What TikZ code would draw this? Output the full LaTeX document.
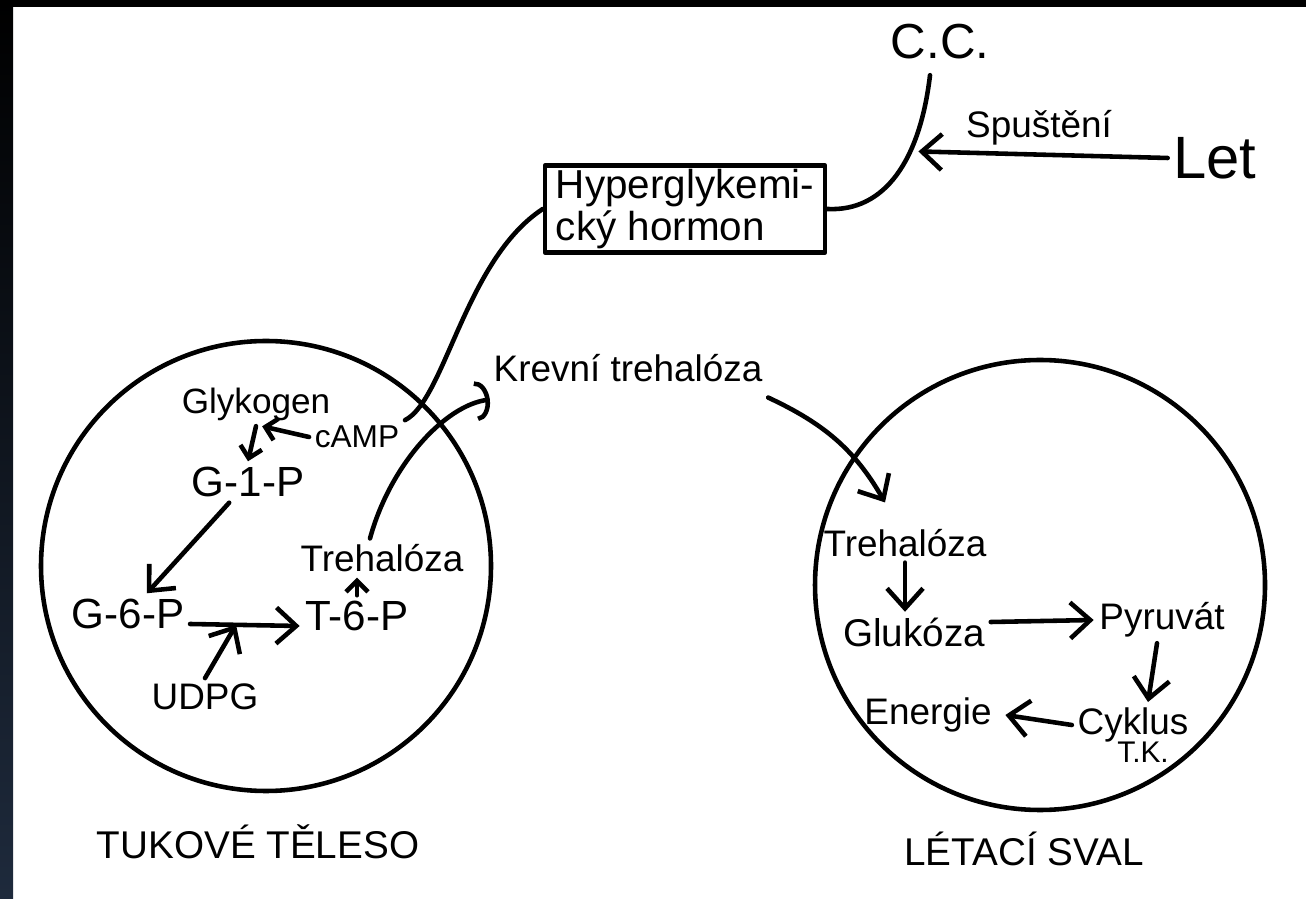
\documentclass[tikz,border=0pt]{standalone}
\usepackage{fontspec}
\setmainfont{Liberation Sans}
\usetikzlibrary{arrows.meta,calc}
\tikzset{
  hand/.style={line width=1.3pt, line cap=round, line join=round},
  tip/.style={-{Straight Barb[length=2mm,width=3.6mm]}},
  smalltip/.style={-{Straight Barb[length=1.1mm,width=2.2mm]}},
  hook/.style={-{Arc Barb[length=1.4mm,width=4mm]}},
  word/.style={inner sep=1pt, font=\fontsize{10.5}{12}\selectfont},
  gp/.style={inner sep=1pt, font=\fontsize{12}{14}\selectfont},
  cell/.style={circle, draw, minimum size=4.5cm, inner sep=0pt},
}
\begin{document}
\begin{tikzpicture}[hand]
  \useasboundingbox (0,0) rectangle (13.06,-8.99);
  \shade[top color=black, bottom color={rgb,255:red,30;green,42;blue,60}] (0,0) rectangle (0.13,-8.99);
  \fill[black] (0,0) rectangle (13.06,-0.07);

  \node[cell] (fat) at (2.66,-5.66) {};
  \node[cell] (muscle) at (10.40,-5.85) {};

  % top: hormone release
  \node[word, font=\fontsize{14}{16}\selectfont] (cc) at (9.40,-0.42) {C.C.};
  \node[word, font=\fontsize{17}{20}\selectfont] (let) at (12.15,-1.58) {Let};
  \node[draw, word, font=\fontsize{11.5}{12}\selectfont, align=left,
    minimum width=2.8cm, minimum height=0.82cm] (hormone) at (6.85,-2.09)
    {Hyperglykemi-\\cký hormon};
  \draw ([shift={(-0.1,-0.1)}]cc.south) .. controls (9.2,-1.6) and (8.85,-2.12) ..
    coordinate[pos=0.35] (hit) (hormone.east);
  \draw[tip, shorten >=0.8mm] (let.west) -- node[word, above=1pt] (spust) {Spuštění} (hit);

  % fat body
  \node[word, font=\fontsize{10}{12}\selectfont] (glyk) at (2.56,-4.04) {Glykogen};
  \node[word, font=\fontsize{9}{11}\selectfont] (camp) at (3.57,-4.37) {cAMP};
  \node[gp] (g1p) at (2.48,-4.82) {G-1-P};
  \node[gp] (g6p) at (1.28,-6.14) {G-6-P};
  \node[gp] (t6p) at (3.57,-6.16) {T-6-P};
  \node[word] (udpg) at (2.05,-6.97) {UDPG};
  \node[word] (treL) at (3.82,-5.58) {Trehalóza};
  \node[word] (krev) at (6.28,-3.68) {Krevní trehalóza};

  \draw (hormone.west) .. controls (4.65,-2.6) and (4.45,-4.0) .. (camp.north east);
  \draw[smalltip] (glyk.south) -- (g1p.north);
  \draw[smalltip, shorten >=0.6mm] (camp.west) -- ($(glyk.south)!(camp.west)!(g1p.north)$);
  \draw[tip] (g1p) -- (g6p);
  \draw[tip] ([yshift=-1mm]g6p.east) -- coordinate[pos=0.42] (u) ([yshift=-1mm]t6p.west);
  \draw[tip] (udpg.north) -- (u);
  \draw[smalltip] (t6p.north) -- (t6p.north |- treL.south);
  \draw[hook] ([xshift=-1.2mm]treL.north) .. controls (3.9,-4.65) and (4.45,-4.05) ..
    ([shift={(0.02,-0.12)}]krev.south west);

  % flight muscle
  \node[word] (treR) at (9.05,-5.43) {Trehalóza};
  \node[word, font=\fontsize{11}{13}\selectfont] (gluk) at (9.14,-6.32) {Glukóza};
  \node[word] (pyr) at (11.62,-6.20) {Pyruvát};
  \node[word] (cyk) at (11.33,-7.25) {Cyklus};
  \node[word, font=\fontsize{8.5}{10}\selectfont] (tk) at (11.43,-7.52) {T.K.};
  \node[word] (energ) at (9.28,-7.15) {Energie};

  \draw[tip] ([yshift=-1mm]krev.south east) to[out=-25,in=120]
    ([shift={(-0.2,0.21)}]treR.north);
  \draw[tip] (treR.south) -- (treR.south |- gluk.north);
  \draw[tip] ([yshift=1mm]gluk.east) -- (pyr.west);
  \draw[tip] ([xshift=-0.5mm]pyr.south) -- ([xshift=1.5mm]cyk.north);
  \draw[tip] (cyk.west) -- ([xshift=0.8mm]energ.east);

  \node[word, font=\fontsize{11}{13}\selectfont] (fatlbl) at (2.58,-8.42) {TUKOVÉ TĚLESO};
  \node[word, font=\fontsize{11}{13}\selectfont] (muslbl) at (10.24,-8.49) {LÉTACÍ SVAL};
\end{tikzpicture}
\end{document}
